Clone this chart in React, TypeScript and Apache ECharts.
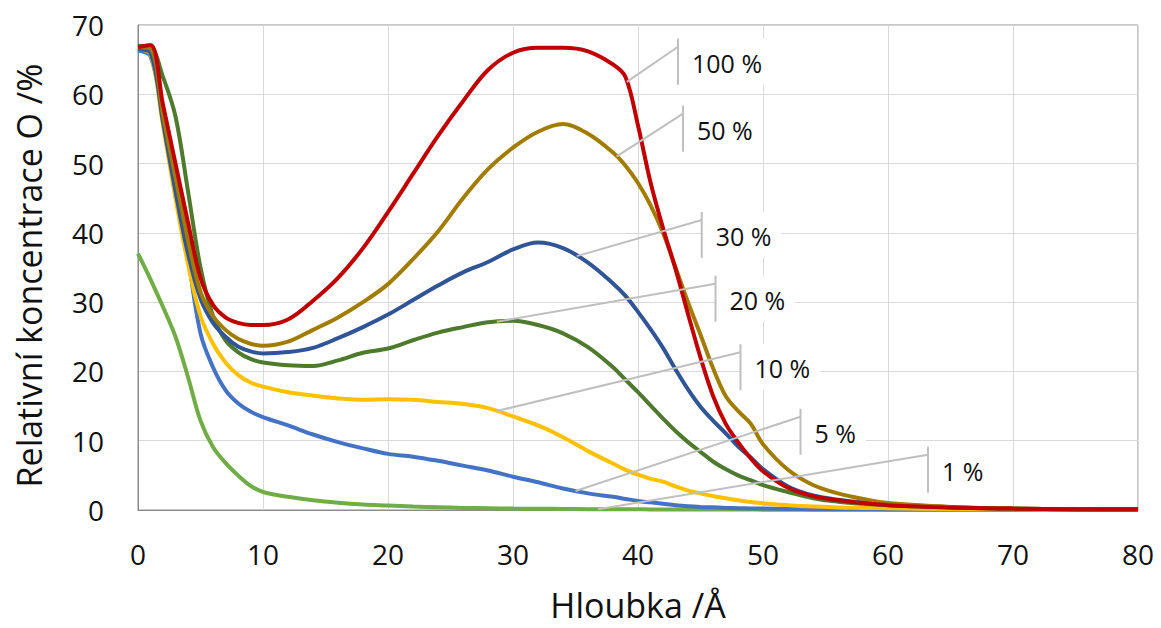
import React, { useEffect, useRef } from "react";
import * as echarts from "echarts";

// Depth (Å) – shared x values
const depth = [0, 1, 2, 3, 4, 5, 6, 7, 8, 9, 10, 12, 14, 16, 18, 20, 22, 24, 26, 28, 30, 32, 34, 36, 38, 39, 40, 41, 42, 43, 44, 45, 46, 47, 48, 49, 50, 52, 54, 56, 58, 60, 65, 70, 75, 80];

// Relative O concentration (%) per series
const s1 = [37, 33.3, 29.3, 25, 19.2, 12.9, 9.1, 6.8, 5, 3.5, 2.6, 1.9, 1.4, 1.05, 0.8, 0.65, 0.5, 0.4, 0.3, 0.25, 0.2, 0.18, 0.15, 0.12, 0.1, 0.1, 0.1, 0.09, 0.09, 0.08, 0.08, 0.07, 0.07, 0.06, 0.06, 0.06, 0.05, 0.05, 0.05, 0.04, 0.04, 0.04, 0.03, 0.03, 0.03, 0.03];
const s5 = [66.3, 65.5, 57, 47, 36.5, 25.5, 20.6, 17.3, 15.4, 14.2, 13.4, 12.2, 10.9, 9.8, 8.9, 8.1, 7.7, 7.1, 6.4, 5.7, 4.8, 4, 3.1, 2.4, 1.9, 1.6, 1.3, 1.1, 0.9, 0.7, 0.55, 0.45, 0.38, 0.3, 0.26, 0.22, 0.2, 0.15, 0.12, 0.1, 0.1, 0.08, 0.06, 0.05, 0.04, 0.04];
const s10 = [66.5, 65.8, 55.5, 45, 35.5, 28, 24, 21.3, 19.5, 18.4, 17.8, 17, 16.5, 16.1, 15.9, 16, 15.9, 15.6, 15.3, 14.7, 13.5, 12.2, 10.5, 8.5, 6.7, 5.8, 5.1, 4.5, 4.1, 3.4, 2.8, 2.4, 2.0, 1.7, 1.4, 1.15, 0.95, 0.7, 0.5, 0.35, 0.3, 0.25, 0.15, 0.1, 0.08, 0.06];
const s20 = [67, 66.8, 62.5, 56.8, 46, 35, 28, 24.5, 22.8, 21.8, 21.3, 20.9, 20.8, 21.6, 22.7, 23.3, 24.5, 25.6, 26.4, 27.1, 27.3, 26.7, 25.5, 23.5, 20.6, 18.8, 17, 15.1, 13.2, 11.4, 9.8, 8.4, 7, 5.9, 5, 4.3, 3.6, 2.6, 1.7, 1.2, 0.9, 0.7, 0.35, 0.2, 0.1, 0.08];
const s30 = [66.5, 66, 56, 46, 37, 30.5, 27, 25, 23.6, 22.9, 22.6, 22.8, 23.4, 24.8, 26.4, 28.2, 30.3, 32.4, 34.3, 35.8, 37.6, 38.6, 37.8, 35.7, 32.7, 30.9, 28.6, 26.1, 23.4, 20.3, 17.4, 14.9, 12.9, 11.1, 9.2, 7.6, 5.9, 3.4, 2.1, 1.5, 1.1, 0.85, 0.4, 0.2, 0.12, 0.1];
const s50 = [66.8, 66.6, 57, 48, 39, 31.5, 28, 26, 24.7, 24, 23.7, 24.3, 26, 27.8, 30, 32.6, 36.2, 40.2, 45, 49.2, 52.3, 54.6, 55.7, 54.3, 51.6, 49.7, 47.2, 44, 40, 35, 30, 25.3, 20.5, 16.5, 14.3, 12.5, 9.5, 5.8, 3.6, 2.4, 1.6, 1.0, 0.45, 0.22, 0.12, 0.1];
const s100 = [66.8, 67.1, 58.5, 50, 41.5, 33.5, 29.6, 27.8, 27, 26.7, 26.7, 27.5, 30.2, 33.5, 37.8, 43, 48.5, 54, 59, 63.5, 66, 66.7, 66.7, 66.2, 64.3, 62.5, 55.5, 47.3, 40.7, 34.8, 28.3, 22, 16.5, 12.5, 9.8, 7.5, 5.6, 3.2, 2.0, 1.4, 1.0, 0.7, 0.35, 0.2, 0.12, 0.1];

const seriesNames = ["1 %", "5 %", "10 %", "20 %", "30 %", "50 %", "100 %"];
const seriesValues = [s1, s5, s10, s20, s30, s50, s100];
const seriesColors = ["#70AD47", "#4472C4", "#FFC000", "#4E7A2E", "#2F5597", "#A27C00", "#C00000"];

// Data-label leader lines: depth on curve where the leader starts, label position (data units)
const labelAnchorX = [36.8, 35.0, 28.7, 28.7, 35.1, 38.3, 39.1];
const labelBoxX = [63.2, 53.0, 48.2, 46.2, 45.1, 43.6, 43.2];
const labelBoxY = [5.8, 11.3, 20.6, 30.5, 39.7, 55.05, 64.7];

const xTicks = { min: 0, max: 80, interval: 10 };
const yTicks = { min: 0, max: 70, interval: 10 };

const FONT = "'Open Sans', 'Noto Sans', sans-serif";

function interp(xs: number[], ys: number[], x: number) {
  for (let i = 0; i < xs.length - 1; i++) {
    if (x >= xs[i] && x <= xs[i + 1]) {
      const t = (x - xs[i]) / (xs[i + 1] - xs[i]);
      return ys[i] + t * (ys[i + 1] - ys[i]);
    }
  }
  return ys[ys.length - 1];
}

function textWidth(s: string, size: number) {
  const c = document.createElement("canvas").getContext("2d");
  if (!c) return s.length * size * 0.6;
  c.font = `${size}px ${FONT}`;
  return c.measureText(s).width;
}

export default function App() {
  const ref = useRef<HTMLDivElement>(null);
  useEffect(() => {
    if (!ref.current) return;
    const chart = echarts.init(ref.current, undefined, { renderer: "svg" });
    const option: any = {
      animation: false,
      backgroundColor: "#ffffff",
      grid: {
        left: 138,
        right: 23,
        top: 25,
        bottom: 118,
        show: true,
        borderColor: "#8C8C8C",
        borderWidth: 1,
        containLabel: false,
      },
      xAxis: {
        type: "value",
        min: xTicks.min,
        max: xTicks.max,
        interval: xTicks.interval,
        name: "Hloubka /Å",
        nameLocation: "middle",
        nameGap: 78,
        nameTextStyle: { fontFamily: FONT, fontSize: 34, color: "#111" },
        axisLine: { show: true, lineStyle: { color: "#8C8C8C", width: 1 } },
        axisTick: { show: false },
        axisLabel: { fontFamily: FONT, fontSize: 28, color: "#111", margin: 30 },
        splitLine: { show: true, lineStyle: { color: "#D9D9D9", width: 1 } },
      },
      yAxis: {
        type: "value",
        min: yTicks.min,
        max: yTicks.max,
        interval: yTicks.interval,
        name: "Relativní koncentrace O /%",
        nameLocation: "middle",
        nameGap: 92,
        nameTextStyle: { fontFamily: FONT, fontSize: 34, color: "#111", padding: [0, 16, 0, 0] },
        axisLine: { show: true, lineStyle: { color: "#8C8C8C", width: 1 } },
        axisTick: { show: false },
        axisLabel: { fontFamily: FONT, fontSize: 28, color: "#111", margin: 34 },
        splitLine: { show: true, lineStyle: { color: "#D9D9D9", width: 1 } },
      },
      series: seriesNames.map((name, i) => ({
        name,
        type: "line",
        data: depth.map((d, j) => [d, seriesValues[i][j]]),
        showSymbol: false,
        symbol: "none",
        smooth: 0.35,
        lineStyle: { color: seriesColors[i], width: 4 },
        itemStyle: { color: seriesColors[i] },
        z: 2 + i,
      })),
    };
    chart.setOption(option);

    const graphics: any[] = [];
    const fontSize = 25;
    seriesNames.forEach((name, i) => {
      const ay = interp(depth, seriesValues[i], labelAnchorX[i]);
      const a = chart.convertToPixel({ gridIndex: 0 }, [labelAnchorX[i], ay]) as number[];
      const b = chart.convertToPixel({ gridIndex: 0 }, [labelBoxX[i], labelBoxY[i]]) as number[];
      const w = textWidth(name, fontSize) + 24;
      graphics.push({
        type: "rect",
        shape: { x: b[0], y: b[1] - 23, width: w, height: 46 },
        style: { fill: "#ffffff" },
        z: 100,
      });
      graphics.push({
        type: "line",
        shape: { x1: a[0], y1: a[1], x2: b[0], y2: b[1] - 15 },
        style: { stroke: "#BFBFBF", lineWidth: 2 },
        z: 101,
      });
      graphics.push({
        type: "line",
        shape: { x1: b[0], y1: b[1] - 23, x2: b[0], y2: b[1] + 23 },
        style: { stroke: "#BFBFBF", lineWidth: 2 },
        z: 101,
      });
      graphics.push({
        type: "text",
        x: b[0] + 14,
        y: b[1] + 1,
        style: {
          text: name,
          fontFamily: FONT,
          fontSize,
          fill: "#111",
          verticalAlign: "middle",
          align: "left",
        },
        z: 102,
      });
    });
    chart.setOption({ graphic: graphics });

    return () => chart.dispose();
  }, []);
  return (
    <div
      ref={ref}
      style={{ position: "fixed", left: 0, top: 0, width: 1161, height: 628 }}
    />
  );
}
